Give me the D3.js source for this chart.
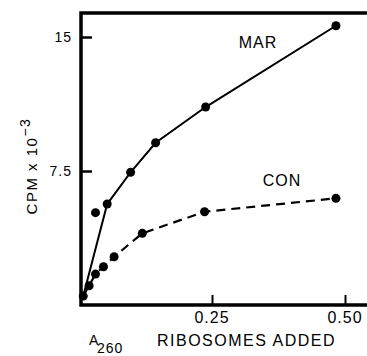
<!DOCTYPE html>
<html>
<head>
<meta charset="UTF-8" />
<title></title>
<script src="https://cdn.jsdelivr.net/npm/d3@7"></script>
<style>
    body { margin: 0; background: #fff; }
    svg text { font-family: "Liberation Sans", Arial, sans-serif; fill: #000; }
</style>
</head>
<body>
<div id="chart"></div>
<script type="text/javascript">
    // values
    var marX = [0.008, 0.053, 0.097, 0.144, 0.238, 0.483];
    var marY = [0.5, 5.65, 7.43, 9.08, 11.08, 15.63];
    var marOutlier = [0.031, 5.17];
    var conX = [0.008, 0.019, 0.031, 0.046, 0.066, 0.119, 0.236, 0.483];
    var conY = [0.5, 1.08, 1.73, 2.14, 2.70, 4.01, 5.22, 5.97];
    var xTicks = [0.25, 0.50];
    var xTickLabels = ["0.25", "0.50"];
    var yTicks = [7.5, 15];
    var yTickLabels = ["7.5", "15"];

    var W = 367, H = 356;
    var svg = d3.select("#chart").append("svg").attr("width", W).attr("height", H);

    var x = d3.scaleLinear().domain([0, 0.5]).range([79, 345]);
    var y = d3.scaleLinear().domain([0, 15]).range([305, 37]);

    // frame: left, bottom, top
    var x0 = 81, yb = 305, yt = 13;
    svg.append("path")
        .attr("d", "M" + W + "," + yt + "H" + x0 + "V" + yb + "H" + W)
        .attr("fill", "none").attr("stroke", "#000").attr("stroke-width", 3.5);

    // y ticks (inward)
    var yAxis = d3.axisRight(y).tickValues(yTicks).tickSize(11).tickFormat("");
    var gy = svg.append("g").attr("transform", "translate(" + x0 + ",0)").call(yAxis);
    gy.select(".domain").remove();
    gy.selectAll("line").attr("stroke-width", 2.5);
    svg.selectAll(".ylab").data(yTicks).enter().append("text")
        .attr("x", 72).attr("y", function (d) { return y(d) + 5; })
        .attr("text-anchor", "end").style("font-size", "14px").style("letter-spacing", "1px")
        .text(function (d, i) { return yTickLabels[i]; });

    // x ticks (upward)
    var xAxis = d3.axisTop(x).tickValues(xTicks).tickSize(10).tickFormat("");
    var gx = svg.append("g").attr("transform", "translate(0," + yb + ")").call(xAxis);
    gx.select(".domain").remove();
    gx.selectAll("line").attr("stroke-width", 2);
    svg.selectAll(".xlab").data(xTicks).enter().append("text")
        .attr("x", function (d) { return x(d); }).attr("y", 323)
        .attr("text-anchor", "middle").style("font-size", "16px").style("letter-spacing", "1px")
        .text(function (d, i) { return xTickLabels[i]; });

    // lines
    var line = d3.line().x(function (d) { return x(d[0]); }).y(function (d) { return y(d[1]); });
    var mar = d3.zip(marX, marY);
    var con = d3.zip(conX, conY);
    svg.append("path").datum(mar).attr("d", line)
        .attr("fill", "none").attr("stroke", "#000").attr("stroke-width", 2);
    svg.append("path").datum(con).attr("d", line)
        .attr("fill", "none").attr("stroke", "#000").attr("stroke-width", 2.2)
        .attr("stroke-dasharray", "9,6");

    var pts = mar.concat(con.slice(1)).concat([marOutlier]);
    svg.selectAll(".dot").data(pts).enter().append("circle")
        .attr("cx", function (d) { return x(d[0]); })
        .attr("cy", function (d) { return y(d[1]); })
        .attr("r", 4.5).attr("fill", "#000");

    // series labels
    svg.append("text").attr("x", 258).attr("y", 48).attr("text-anchor", "middle")
        .style("font-size", "16px").style("letter-spacing", "1px").text("MAR");
    svg.append("text").attr("x", 282).attr("y", 186).attr("text-anchor", "middle")
        .style("font-size", "16px").style("letter-spacing", "1px").text("CON");

    // y title
    var yt2 = svg.append("text").attr("transform", "translate(37,166) rotate(-90)")
        .attr("text-anchor", "middle").style("font-size", "15px").style("letter-spacing", "1.5px");
    yt2.append("tspan").text("CPM x 10");
    yt2.append("tspan").attr("dy", -7).style("font-size", "14px").text("\u22123");

    // x title
    svg.append("text").attr("x", 89).attr("y", 345).style("font-size", "14px").text("A");
    svg.append("text").attr("x", 97).attr("y", 353).style("font-size", "14px").style("letter-spacing", "1px").text("260");
    svg.append("text").attr("x", 157).attr("y", 346).style("font-size", "16px").style("letter-spacing", "1.5px")
        .text("RIBOSOMES ADDED");
</script>
</body>
</html>
